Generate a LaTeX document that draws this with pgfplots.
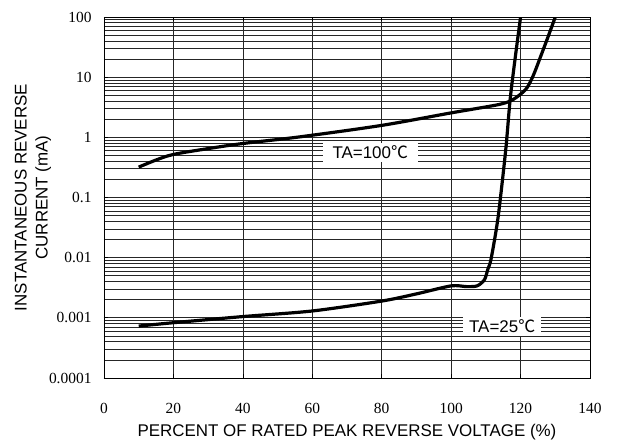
\documentclass[border=0pt]{standalone}
\usepackage{fontspec}
\setmainfont{Liberation Sans}
\newfontfamily\tickfont{Liberation Serif}
\newfontfamily\cjk{Noto Sans CJK SC}
\usepackage{pgfplots}
\pgfplotsset{compat=1.18}

\begin{document}
\begin{tikzpicture}
  % fix the page to the reference size, axis box at (104,68) from lower left
  \useasboundingbox (-104bp,-68bp) rectangle (514bp,378bp);
  \begin{axis}[
      scale only axis,
      width=486bp, height=361bp,
      xmin=0, xmax=140,
      ymode=log, ymin=1e-4, ymax=100,
      xtick={0,20,...,140},
      ytick={1e-4,1e-3,1e-2,1e-1,1,10,100},
      yticklabels={0.0001,0.001,0.01,0.1,1,10,100},
      xmajorgrids, ymajorgrids, yminorgrids,
      grid style={black!85, line width=0.7bp},
      minor grid style={black!85, line width=0.7bp},
      axis line style={black, line width=0.8bp},
      major tick length=4bp, minor tick length=0pt,
      tick style={black, line width=0.7bp},
      /pgf/number format/assume math mode=true,
      ticklabel style={font=\tickfont\fontsize{15.5}{17}\selectfont},
      xticklabel style={anchor=base, yshift=-35bp},
      yticklabel style={xshift=-9bp},
      xlabel={PERCENT OF RATED PEAK REVERSE VOLTAGE (\%)},
      ylabel={INSTANTANEOUS REVERSE\\CURRENT (mA)},
      every axis x label/.style={at={(axis description cs:0.5,-0.15)}, anchor=center,
        font=\fontsize{17}{21}\selectfont},
      every axis y label/.style={at={(axis description cs:-0.146,0.5)}, anchor=center,
        rotate=90, align=center, font=\fontsize{17}{21}\selectfont},
    ]
    % TA = 100 C
    \addplot[black, line width=3.2bp, smooth, tension=0.5] coordinates {
      (10,0.32) (15,0.42) (20,0.52) (30,0.65) (40,0.79) (56.5,1.02)
      (80,1.58) (100,2.55) (110,3.2) (114.1,3.55) (117,4.0) (119.4,4.9)
      (121.8,6.6) (123.7,10.8) (125.5,20) (127.8,45) (130,100)
    };
    % TA = 25 C
    \addplot[black, line width=3.2bp, smooth, tension=0.45] coordinates {
      (10,0.00073) (20,0.00083) (40,0.00105) (60,0.0013) (80,0.0019)
      (90,0.0025) (100,0.0034) (104.5,0.0033) (107.5,0.0034)
      (109.6,0.0043) (110.6,0.0065) (111.5,0.0095) (113.5,0.046)
      (115.7,0.6) (117,4.3) (118.5,22) (120,100)
    };
    \node[fill=white, inner xsep=10bp, inner ysep=3bp, font=\fontsize{17}{20}\selectfont]
      at (axis cs:76.7,0.56) {TA=100{\cjk ℃}};
    \node[fill=white, inner xsep=6bp, inner ysep=3bp, font=\fontsize{17}{20}\selectfont]
      at (axis cs:114.7,0.00072) {TA=25{\cjk ℃}};
  \end{axis}
\end{tikzpicture}
\end{document}
